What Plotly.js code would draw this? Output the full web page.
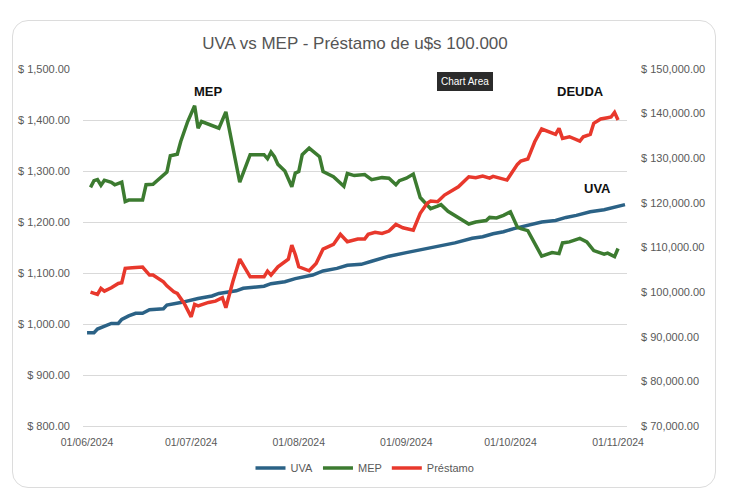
<!DOCTYPE html>
<html>
<head>
<meta charset="utf-8">
<script src="https://cdn.plot.ly/plotly-3.0.1.min.js"></script>
<style>
  html, body { margin: 0; padding: 0; background: #ffffff; }
  #wrap { position: relative; width: 730px; height: 490px; overflow: hidden; }
  #frame { position: absolute; left: 12px; top: 20px; width: 704px; height: 468px;
           border: 1px solid #dcdcdc; border-radius: 16px; box-sizing: border-box; }
  #chart { position: absolute; left: 0; top: 0; width: 730px; height: 490px; }
</style>
</head>
<body>
<div id="wrap"><div id="frame"></div><div id="chart"></div></div>
<script>
// ---- data ----
const uvaDates = ["2024-06-01","2024-06-03","2024-06-04","2024-06-06","2024-06-08","2024-06-10","2024-06-11","2024-06-13","2024-06-15","2024-06-17","2024-06-19","2024-06-23","2024-06-24","2024-06-28","2024-07-01","2024-07-03","2024-07-07","2024-07-09","2024-07-14","2024-07-16","2024-07-19","2024-07-22","2024-07-24","2024-07-28","2024-07-31","2024-08-05","2024-08-08","2024-08-12","2024-08-15","2024-08-19","2024-08-22","2024-08-27","2024-09-01","2024-09-06","2024-09-10","2024-09-15","2024-09-20","2024-09-23","2024-09-26","2024-09-29","2024-10-02","2024-10-06","2024-10-10","2024-10-14","2024-10-17","2024-10-20","2024-10-24","2024-10-28","2024-11-01","2024-11-03"];
const uvaValues = [983,983,990,996,1001,1001,1009,1016,1021,1021,1028,1030,1037,1042,1047,1050,1055,1060,1065,1070,1072,1074,1079,1083,1089,1096,1104,1109,1115,1117,1123,1133,1140,1147,1153,1159,1168,1171,1177,1181,1187,1194,1200,1203,1209,1213,1220,1224,1231,1234];

const mepDates = ["2024-06-02","2024-06-03","2024-06-04","2024-06-05","2024-06-06","2024-06-08","2024-06-09","2024-06-10","2024-06-11","2024-06-12","2024-06-13","2024-06-17","2024-06-18","2024-06-20","2024-06-22","2024-06-24","2024-06-25","2024-06-27","2024-06-28","2024-06-30","2024-07-02","2024-07-03","2024-07-04","2024-07-07","2024-07-08","2024-07-09","2024-07-11","2024-07-13","2024-07-15","2024-07-18","2024-07-22","2024-07-23","2024-07-24","2024-07-25","2024-07-26","2024-07-28","2024-07-30","2024-07-31","2024-08-01","2024-08-02","2024-08-04","2024-08-07","2024-08-08","2024-08-11","2024-08-14","2024-08-15","2024-08-17","2024-08-20","2024-08-22","2024-08-25","2024-08-27","2024-08-29","2024-08-30","2024-09-01","2024-09-03","2024-09-05","2024-09-08","2024-09-10","2024-09-11","2024-09-13","2024-09-16","2024-09-19","2024-09-21","2024-09-24","2024-09-25","2024-09-27","2024-09-29","2024-10-01","2024-10-03","2024-10-04","2024-10-06","2024-10-10","2024-10-13","2024-10-15","2024-10-16","2024-10-18","2024-10-21","2024-10-23","2024-10-25","2024-10-28","2024-10-29","2024-10-31","2024-11-01"];
const mepValues = [1268,1281,1283,1272,1282,1278,1273,1276,1278,1240,1243,1243,1273,1274,1286,1298,1330,1333,1358,1397,1428,1384,1397,1389,1387,1384,1416,1351,1278,1332,1332,1324,1337,1328,1313,1300,1269,1296,1299,1332,1345,1328,1299,1289,1270,1295,1291,1293,1283,1287,1286,1273,1281,1286,1294,1248,1226,1231,1234,1221,1209,1196,1200,1203,1209,1208,1213,1220,1190,1187,1183,1133,1140,1138,1159,1161,1168,1161,1144,1137,1139,1132,1148];

const prestamoDates = ["2024-06-02","2024-06-04","2024-06-05","2024-06-06","2024-06-08","2024-06-10","2024-06-11","2024-06-12","2024-06-14","2024-06-17","2024-06-19","2024-06-20","2024-06-23","2024-06-24","2024-06-26","2024-06-27","2024-06-29","2024-07-01","2024-07-02","2024-07-03","2024-07-06","2024-07-08","2024-07-10","2024-07-11","2024-07-13","2024-07-15","2024-07-18","2024-07-22","2024-07-23","2024-07-24","2024-07-26","2024-07-29","2024-07-30","2024-07-31","2024-08-01","2024-08-04","2024-08-06","2024-08-08","2024-08-11","2024-08-13","2024-08-15","2024-08-18","2024-08-20","2024-08-21","2024-08-23","2024-08-25","2024-08-27","2024-08-29","2024-08-31","2024-09-03","2024-09-05","2024-09-07","2024-09-08","2024-09-10","2024-09-12","2024-09-14","2024-09-16","2024-09-19","2024-09-21","2024-09-23","2024-09-25","2024-09-26","2024-09-28","2024-09-30","2024-10-03","2024-10-04","2024-10-06","2024-10-08","2024-10-10","2024-10-14","2024-10-15","2024-10-16","2024-10-18","2024-10-21","2024-10-22","2024-10-24","2024-10-25","2024-10-27","2024-10-29","2024-10-30","2024-10-31","2024-11-01"];
const prestamoValues = [100000,99500,100830,100230,100970,101950,102090,105320,105450,105610,103820,103820,102310,101420,100070,99710,97470,94460,97240,96930,97690,97980,98730,96490,102310,107400,103430,103430,104710,103820,105680,107400,110540,108450,105680,104780,106430,109640,110700,112940,111280,111880,111880,112940,113390,113160,113680,115180,114420,113900,117650,119890,120410,120250,121750,122650,123610,125850,125630,126010,125550,125940,125490,125110,128630,129370,129820,133700,136550,135360,136700,134460,134820,133860,134820,135360,137830,138790,139080,139240,140290,138570];

const seriesNames = ["UVA", "MEP", "Préstamo"];
const titleText = "UVA vs MEP - Préstamo de u$s 100.000";

// ---- styling ----
const FONT = "'Liberation Sans', Arial, sans-serif";
const GREY = "#595959";

const traces = [
  { x: uvaDates, y: uvaValues, name: seriesNames[0], type: "scatter", mode: "lines",
    line: { color: "#2b6286", width: 3.5 }, yaxis: "y" },
  { x: mepDates, y: mepValues, name: seriesNames[1], type: "scatter", mode: "lines",
    line: { color: "#3c7b30", width: 3.5 }, yaxis: "y" },
  { x: prestamoDates, y: prestamoValues, name: seriesNames[2], type: "scatter", mode: "lines",
    line: { color: "#e8382c", width: 3.5 }, yaxis: "y2" }
];

const layout = {
  width: 730, height: 490,
  paper_bgcolor: "rgba(0,0,0,0)", plot_bgcolor: "rgba(0,0,0,0)",
  margin: { l: 83, r: 103, t: 69, b: 64, autoexpand: false },
  font: { family: FONT, color: GREY, size: 11 },
  title: { text: titleText, x: 0.5, xanchor: "center", xref: "paper",
           y: 0.912, yref: "container", yanchor: "middle",
           font: { family: FONT, size: 17, color: "#555555" } },
  xaxis: {
    type: "date", range: ["2024-05-30 20:00", "2024-11-03 14:00"],
    tick0: "2024-06-01", dtick: "M1", tickformat: "%d/%m/%Y",
    showgrid: false, showline: true, linecolor: "#d9d9d9", linewidth: 1,
    ticks: "", ticklabelstandoff: 6, zeroline: false, automargin: false,
    tickfont: { family: FONT, size: 10.5, color: GREY }
  },
  yaxis: {
    range: [800, 1500], dtick: 100, tick0: 800,
    tickprefix: "$ ", tickformat: ",.2f",
    showgrid: true, gridcolor: "#d9d9d9", gridwidth: 1, automargin: false,
    zeroline: false, showline: false, ticks: "", ticklabelstandoff: 12,
    tickfont: { family: FONT, size: 11, color: GREY }
  },
  yaxis2: {
    range: [70000, 150000], dtick: 10000, tick0: 70000,
    overlaying: "y", side: "right", automargin: false,
    tickprefix: "$ ", tickformat: ",.2f",
    showgrid: false, zeroline: false, showline: false, ticks: "", ticklabelstandoff: 13,
    tickfont: { family: FONT, size: 11, color: GREY }
  },
  showlegend: true,
  legend: { orientation: "h", xref: "container", yref: "container",
            x: 0.5, xanchor: "center", y: 0.045, yanchor: "middle",
            font: { family: FONT, size: 11, color: GREY }, itemwidth: 30 },
  annotations: [
    { text: "<b>MEP</b>", xref: "paper", yref: "paper", x: 0.230, y: 0.938,
      xanchor: "center", yanchor: "middle", showarrow: false,
      font: { family: FONT, size: 13, color: "#111111" } },
    { text: "<b>DEUDA</b>", xref: "paper", yref: "paper", x: 0.914, y: 0.938,
      xanchor: "center", yanchor: "middle", showarrow: false,
      font: { family: FONT, size: 13, color: "#111111" } },
    { text: "<b>UVA</b>", xref: "paper", yref: "paper", x: 0.945, y: 0.665,
      xanchor: "center", yanchor: "middle", showarrow: false,
      font: { family: FONT, size: 13, color: "#111111" } },
    { text: "Chart Area", xref: "paper", yref: "paper", x: 0.702, y: 0.966,
      xanchor: "center", yanchor: "middle", showarrow: false,
      bgcolor: "#2b2b2b", borderpad: 3, bordercolor: "#2b2b2b",
      font: { family: FONT, size: 10, color: "#ffffff" } }
  ]
};

Plotly.newPlot("chart", traces, layout, { displayModeBar: false, staticPlot: true });
</script>
</body>
</html>
